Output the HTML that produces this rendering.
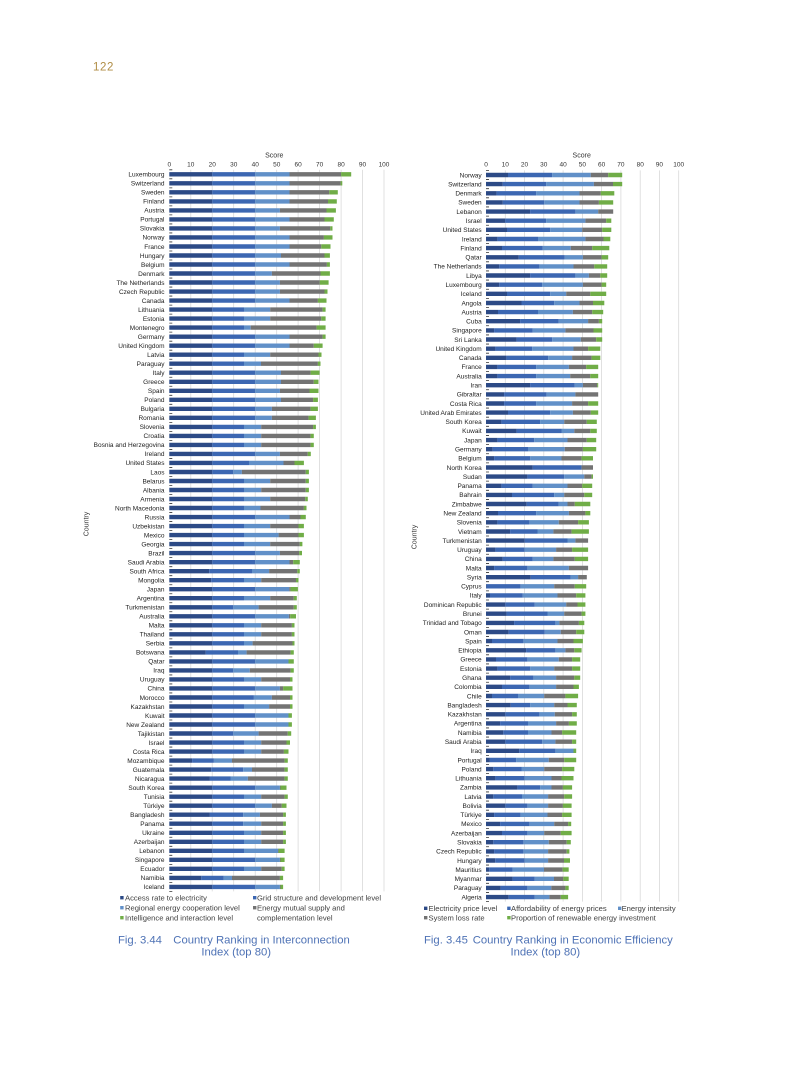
<!DOCTYPE html>
<html><head><meta charset="utf-8"><style>
html,body{margin:0;padding:0;background:#fff;}
svg{display:block;}
text{font-family:"Liberation Sans",Arial,sans-serif;}
</style></head><body>
<svg width="793" height="1077" viewBox="0 0 793 1077" xmlns="http://www.w3.org/2000/svg">
<rect width="793" height="1077" fill="#fff"/>
<text x="93" y="70.5" font-size="11.5" letter-spacing="0.6" fill="#b08d45">122</text>

<!-- LEFT CHART -->
<g stroke="#d9d9d9" stroke-width="0.8">
<line x1="190.8" y1="169.8" x2="190.8" y2="891.4"/><line x1="212.2" y1="169.8" x2="212.2" y2="891.4"/><line x1="233.7" y1="169.8" x2="233.7" y2="891.4"/><line x1="255.2" y1="169.8" x2="255.2" y2="891.4"/><line x1="276.7" y1="169.8" x2="276.7" y2="891.4"/><line x1="298.1" y1="169.8" x2="298.1" y2="891.4"/><line x1="319.6" y1="169.8" x2="319.6" y2="891.4"/><line x1="341.1" y1="169.8" x2="341.1" y2="891.4"/><line x1="362.5" y1="169.8" x2="362.5" y2="891.4"/><line x1="384" y1="169.8" x2="384" y2="891.4"/>
</g>
<line x1="170.8" y1="169.4" x2="170.8" y2="892" stroke="#333" stroke-width="3" stroke-dasharray="0.8 8.22"/>
<text x="274.3" y="157.5" font-size="7" text-anchor="middle" fill="#333">Score</text>
<g font-size="6.5" text-anchor="middle" fill="#333">
<text x="169.3" y="166.3">0</text><text x="190.8" y="166.3">10</text><text x="212.2" y="166.3">20</text><text x="233.7" y="166.3">30</text><text x="255.2" y="166.3">40</text><text x="276.7" y="166.3">50</text><text x="298.1" y="166.3">60</text><text x="319.6" y="166.3">70</text><text x="341.1" y="166.3">80</text><text x="362.5" y="166.3">90</text><text x="384" y="166.3">100</text>
</g>
<text transform="translate(88.5,524) rotate(-90)" font-size="7" text-anchor="middle" fill="#333">Country</text>

<g fill="none" stroke-width="4.4">
<path stroke="#2c4a86" d="M169.3 174.3H212.2M169.3 183.3H212.2M169.3 192.3H212.2M169.3 201.4H212.2M169.3 210.4H212.2M169.3 219.4H212.2M169.3 228.4H212.2M169.3 237.4H212.2M169.3 246.5H212.2M169.3 255.5H212.2M169.3 264.5H212.2M169.3 273.5H212.2M169.3 282.5H212.2M169.3 291.6H212.2M169.3 300.6H212.2M169.3 309.6H212.2M169.3 318.6H212.2M169.3 327.6H212.2M169.3 336.7H212.2M169.3 345.7H212.2M169.3 354.7H212.2M169.3 363.7H212.2M169.3 372.7H212.2M169.3 381.8H212.2M169.3 390.8H212.2M169.3 399.8H212.2M169.3 408.8H212.2M169.3 417.8H212.2M169.3 426.9H212.2M169.3 435.9H212.2M169.3 444.9H212.2M169.3 453.9H212.2M169.3 462.9H212.2M169.3 472H212.2M169.3 481H212.2M169.3 490H212.2M169.3 499H212.2M169.3 508H212.2M169.3 517.1H212.2M169.3 526.1H212.2M169.3 535.1H212.2M169.3 544.1H212.2M169.3 553.1H212.2M169.3 562.2H212.2M169.3 571.2H209.2M169.3 580.2H211.2M169.3 589.2H212.2M169.3 598.2H212.2M169.3 607.3H212.2M169.3 616.3H212.2M169.3 625.3H212.2M169.3 634.3H212.2M169.3 643.3H212.2M169.3 652.4H205.8M169.3 661.4H212.2M169.3 670.4H212.2M169.3 679.4H212.2M169.3 688.4H212.2M169.3 697.5H212.2M169.3 706.5H212.2M169.3 715.5H212.2M169.3 724.5H212.2M169.3 733.5H212.2M169.3 742.6H212.2M169.3 751.6H212.2M169.3 760.6H192.1M169.3 769.6H211.2M169.3 778.6H209.9M169.3 787.7H212.2M169.3 796.7H212.2M169.3 805.7H212.2M169.3 814.7H209.9M169.3 823.7H212.2M169.3 832.8H212.2M169.3 841.8H212.2M169.3 850.8H212.2M169.3 859.8H212.2M169.3 868.8H212.2M169.3 877.9H201.3M169.3 886.9H212.2"/>
<path stroke="#3c67b2" d="M212.2 174.3H255.2M212.2 183.3H255.2M212.2 192.3H255.2M212.2 201.4H255.2M212.2 210.4H255.2M212.2 219.4H255.2M212.2 228.4H255.2M212.2 237.4H255.2M212.2 246.5H255.2M212.2 255.5H255.2M212.2 264.5H255.2M212.2 273.5H255.2M212.2 282.5H255.2M212.2 291.6H255.2M212.2 300.6H255.2M212.2 309.6H244M212.2 318.6H244M212.2 327.6H244M212.2 336.7H255.2M212.2 345.7H255.2M212.2 354.7H244M212.2 363.7H244M212.2 372.7H255.2M212.2 381.8H255.2M212.2 390.8H255.2M212.2 399.8H255.2M212.2 408.8H255.2M212.2 417.8H255.2M212.2 426.9H244M212.2 435.9H244M212.2 444.9H244M212.2 453.9H255.2M212.2 462.9H249M212.2 472H233.3M212.2 481H244M212.2 490H244M212.2 499H244M212.2 508H244M212.2 517.1H255.2M212.2 526.1H244M212.2 535.1H244M212.2 544.1H244M212.2 553.1H255.2M212.2 562.2H255.2M209.2 571.2H252M211.2 580.2H244M212.2 589.2H255.2M212.2 598.2H244M212.2 607.3H233.3M212.2 616.3H255.2M212.2 625.3H244M212.2 634.3H244M212.2 643.3H244M205.8 652.4H238M212.2 661.4H255.2M212.2 670.4H233.3M212.2 679.4H244M212.2 688.4H255.2M212.2 697.5H253.9M212.2 706.5H244M212.2 715.5H255.2M212.2 724.5H255.2M212.2 733.5H233.3M212.2 742.6H244M212.2 751.6H244M192.1 760.6H213.9M211.2 769.6H243.2M209.9 778.6H230.5M212.2 787.7H255.2M212.2 796.7H244M212.2 805.7H255.2M209.9 814.7H243.2M212.2 823.7H243.2M212.2 832.8H244M212.2 841.8H244M212.2 850.8H244M212.2 859.8H255.2M212.2 868.8H244M201.3 877.9H223.8M212.2 886.9H255.2"/>
<path stroke="#6190c8" d="M255.2 174.3H289.5M255.2 183.3H289.5M255.2 192.3H289.5M255.2 201.4H289.5M255.2 210.4H279.9M255.2 219.4H289.5M255.2 228.4H279.9M255.2 237.4H289.5M255.2 246.5H289.5M255.2 255.5H281M255.2 264.5H289.5M255.2 273.5H271.9M255.2 282.5H279.9M255.2 291.6H279.9M255.2 300.6H289.5M244 309.6H270.2M244 318.6H270.2M244 327.6H250.7M255.2 336.7H289.5M255.2 345.7H289.5M244 354.7H270.2M244 363.7H261M255.2 372.7H281M255.2 381.8H281M255.2 390.8H279.9M255.2 399.8H281M255.2 408.8H271.9M255.2 417.8H271.9M244 426.9H261.2M244 435.9H261.2M244 444.9H261.2M255.2 453.9H279.9M249 462.9H283.5M233.3 472H241.9M244 481H270.2M244 490H261.2M244 499H270.2M244 508H260.5M255.2 517.1H289.5M244 526.1H270.2M244 535.1H278.6M244 544.1H270.2M255.2 553.1H279.9M255.2 562.2H289.5M252 571.2H269.1M244 580.2H261.2M255.2 589.2H289.3M244 598.2H270.2M233.3 607.3H258.6M255.2 616.3H288.9M244 625.3H261.2M244 634.3H261.2M244 643.3H252.6M238 652.4H246.6M255.2 661.4H288.5M233.3 670.4H249.8M244 679.4H261.2M255.2 688.4H279.9M253.9 697.5H271.9M244 706.5H269.1M255.2 715.5H288.5M255.2 724.5H288.5M233.3 733.5H258.6M244 742.6H261.2M244 751.6H261.2M213.9 760.6H232M243.2 769.6H252M230.5 778.6H247.9M255.2 787.7H279.9M244 796.7H261.2M255.2 805.7H271.9M243.2 814.7H259.9M243.2 823.7H261.2M244 832.8H261.2M244 841.8H261.2M244 850.8H278M255.2 859.8H279.9M244 868.8H261.2M223.8 877.9H232M255.2 886.9H279.9"/>
<path stroke="#737373" d="M289.5 174.3H341.1M289.5 183.3H340.6M289.5 192.3H329.3M289.5 201.4H328M279.9 210.4H326.5M289.5 219.4H324.5M279.9 228.4H330.3M289.5 237.4H323.9M289.5 246.5H321.3M281 255.5H324.5M289.5 264.5H326.9M271.9 273.5H320.5M279.9 282.5H319.8M279.9 291.6H324.5M289.5 300.6H317.9M270.2 309.6H322.6M270.2 318.6H321.3M250.7 327.6H316.6M289.5 336.7H322.6M289.5 345.7H313.8M270.2 354.7H318.5M261 363.7H317.9M281 372.7H310.6M281 381.8H313.8M279.9 390.8H309.5M281 399.8H313.1M271.9 408.8H310.6M271.9 417.8H308.6M261.2 426.9H313.1M261.2 435.9H310.6M261.2 444.9H310.6M279.9 453.9H307.8M283.5 462.9H294.5M241.9 472H305.8M270.2 481H305.8M261.2 490H305.8M270.2 499H305.2M260.5 508H303.9M289.5 517.1H300.5M270.2 526.1H298.5M278.6 535.1H298.5M270.2 544.1H299.8M279.9 553.1H299.2M289.5 562.2H293.2M269.1 571.2H297.3M261.2 580.2H296M289.3 589.2H290.6M270.2 598.2H293.8M258.6 607.3H293.8M288.9 616.3H290.2M261.2 625.3H291.9M261.2 634.3H291.9M252.6 643.3H292.5M246.6 652.4H290.6M249.8 670.4H290.6M261.2 679.4H290M279.9 688.4H283.1M271.9 697.5H290M269.1 706.5H290M258.6 733.5H287.8M261.2 742.6H286.5M261.2 751.6H283.9M232 760.6H284.6M252 769.6H284.6M247.9 778.6H284.6M279.9 787.7H280.5M261.2 796.7H284.6M271.9 805.7H281.8M259.9 814.7H283.1M261.2 823.7H283.1M261.2 832.8H283.1M261.2 841.8H283.1M278 850.8H278.6M279.9 859.8H280.5M261.2 868.8H281.8M232 877.9H279.9M279.9 886.9H280.5"/>
<path stroke="#70ad47" d="M341.1 174.3H351.2M340.6 183.3H342.3M329.3 192.3H337.8M328 201.4H336.8M326.5 210.4H335.9M324.5 219.4H333.8M330.3 228.4H332.5M323.9 237.4H332.5M321.3 246.5H330.5M324.5 255.5H329.9M326.9 264.5H329.9M320.5 273.5H329.9M319.8 282.5H328.6M324.5 291.6H327.5M317.9 300.6H326.5M322.6 309.6H325.6M321.3 318.6H325.6M316.6 327.6H325.6M322.6 336.7H325.6M313.8 345.7H322.6M318.5 354.7H321.5M317.9 363.7H320.5M310.6 372.7H319.6M313.8 381.8H318.5M309.5 390.8H318.5M313.1 399.8H317.9M310.6 408.8H317.9M308.6 417.8H315.9M313.1 426.9H315.9M310.6 435.9H313.8M310.6 444.9H313.8M307.8 453.9H310.8M294.5 462.9H303.9M305.8 472H308.9M305.8 481H308.9M305.8 490H308.9M305.2 499H307.8M303.9 508H306.5M300.5 517.1H305.8M298.5 526.1H303.9M298.5 535.1H303.9M299.8 544.1H302.4M299.2 553.1H302M293.2 562.2H299.8M297.3 571.2H299.8M296 580.2H298.5M290.6 589.2H297.9M293.8 598.2H296.8M293.8 607.3H296.8M290.2 616.3H296M291.9 625.3H294.5M291.9 634.3H294.5M292.5 643.3H294.5M290.6 652.4H293.8M288.5 661.4H293.8M290.6 670.4H293.8M290 679.4H292.5M283.1 688.4H292.5M290 697.5H292.5M290 706.5H292.5M288.5 715.5H291.9M288.5 724.5H291.9M287.8 733.5H291.2M286.5 742.6H290M283.9 751.6H288.5M284.6 760.6H287.8M284.6 769.6H287.8M284.6 778.6H287.8M280.5 787.7H286.5M284.6 796.7H287.8M281.8 805.7H286.5M283.1 814.7H285.9M283.1 823.7H285.9M283.1 832.8H285.9M283.1 841.8H285.9M278.6 850.8H284.6M280.5 859.8H284.6M281.8 868.8H284.6M279.9 877.9H283.1M280.5 886.9H283.1"/>
</g>

<text font-size="6.5" text-anchor="end" fill="#222" x="164.5" y="176.6"><tspan x="164.5">Luxembourg</tspan><tspan x="164.5" dy="9.02">Switzerland</tspan><tspan x="164.5" dy="9.02">Sweden</tspan><tspan x="164.5" dy="9.02">Finland</tspan><tspan x="164.5" dy="9.02">Austria</tspan><tspan x="164.5" dy="9.02">Portugal</tspan><tspan x="164.5" dy="9.02">Slovakia</tspan><tspan x="164.5" dy="9.02">Norway</tspan><tspan x="164.5" dy="9.02">France</tspan><tspan x="164.5" dy="9.02">Hungary</tspan><tspan x="164.5" dy="9.02">Belgium</tspan><tspan x="164.5" dy="9.02">Denmark</tspan><tspan x="164.5" dy="9.02">The Netherlands</tspan><tspan x="164.5" dy="9.02">Czech Republic</tspan><tspan x="164.5" dy="9.02">Canada</tspan><tspan x="164.5" dy="9.02">Lithuania</tspan><tspan x="164.5" dy="9.02">Estonia</tspan><tspan x="164.5" dy="9.02">Montenegro</tspan><tspan x="164.5" dy="9.02">Germany</tspan><tspan x="164.5" dy="9.02">United Kingdom</tspan><tspan x="164.5" dy="9.02">Latvia</tspan><tspan x="164.5" dy="9.02">Paraguay</tspan><tspan x="164.5" dy="9.02">Italy</tspan><tspan x="164.5" dy="9.02">Greece</tspan><tspan x="164.5" dy="9.02">Spain</tspan><tspan x="164.5" dy="9.02">Poland</tspan><tspan x="164.5" dy="9.02">Bulgaria</tspan><tspan x="164.5" dy="9.02">Romania</tspan><tspan x="164.5" dy="9.02">Slovenia</tspan><tspan x="164.5" dy="9.02">Croatia</tspan><tspan x="164.5" dy="9.02">Bosnia and Herzegovina</tspan><tspan x="164.5" dy="9.02">Ireland</tspan><tspan x="164.5" dy="9.02">United States</tspan><tspan x="164.5" dy="9.02">Laos</tspan><tspan x="164.5" dy="9.02">Belarus</tspan><tspan x="164.5" dy="9.02">Albania</tspan><tspan x="164.5" dy="9.02">Armenia</tspan><tspan x="164.5" dy="9.02">North Macedonia</tspan><tspan x="164.5" dy="9.02">Russia</tspan><tspan x="164.5" dy="9.02">Uzbekistan</tspan><tspan x="164.5" dy="9.02">Mexico</tspan><tspan x="164.5" dy="9.02">Georgia</tspan><tspan x="164.5" dy="9.02">Brazil</tspan><tspan x="164.5" dy="9.02">Saudi Arabia</tspan><tspan x="164.5" dy="9.02">South Africa</tspan><tspan x="164.5" dy="9.02">Mongolia</tspan><tspan x="164.5" dy="9.02">Japan</tspan><tspan x="164.5" dy="9.02">Argentina</tspan><tspan x="164.5" dy="9.02">Turkmenistan</tspan><tspan x="164.5" dy="9.02">Australia</tspan><tspan x="164.5" dy="9.02">Malta</tspan><tspan x="164.5" dy="9.02">Thailand</tspan><tspan x="164.5" dy="9.02">Serbia</tspan><tspan x="164.5" dy="9.02">Botswana</tspan><tspan x="164.5" dy="9.02">Qatar</tspan><tspan x="164.5" dy="9.02">Iraq</tspan><tspan x="164.5" dy="9.02">Uruguay</tspan><tspan x="164.5" dy="9.02">China</tspan><tspan x="164.5" dy="9.02">Morocco</tspan><tspan x="164.5" dy="9.02">Kazakhstan</tspan><tspan x="164.5" dy="9.02">Kuwait</tspan><tspan x="164.5" dy="9.02">New Zealand</tspan><tspan x="164.5" dy="9.02">Tajikistan</tspan><tspan x="164.5" dy="9.02">Israel</tspan><tspan x="164.5" dy="9.02">Costa Rica</tspan><tspan x="164.5" dy="9.02">Mozambique</tspan><tspan x="164.5" dy="9.02">Guatemala</tspan><tspan x="164.5" dy="9.02">Nicaragua</tspan><tspan x="164.5" dy="9.02">South Korea</tspan><tspan x="164.5" dy="9.02">Tunisia</tspan><tspan x="164.5" dy="9.02">Türkiye</tspan><tspan x="164.5" dy="9.02">Bangladesh</tspan><tspan x="164.5" dy="9.02">Panama</tspan><tspan x="164.5" dy="9.02">Ukraine</tspan><tspan x="164.5" dy="9.02">Azerbaijan</tspan><tspan x="164.5" dy="9.02">Lebanon</tspan><tspan x="164.5" dy="9.02">Singapore</tspan><tspan x="164.5" dy="9.02">Ecuador</tspan><tspan x="164.5" dy="9.02">Namibia</tspan><tspan x="164.5" dy="9.02">Iceland</tspan></text>

<!-- left legend -->
<g font-size="7.6" fill="#404040">
<rect x="120.2" y="896" width="3.4" height="3.4" fill="#2c4a86"/><text x="125" y="900.3">Access rate to electricity</text>
<rect x="253" y="896" width="3.4" height="3.4" fill="#3c67b2"/><text x="257" y="900.3">Grid structure and development level</text>
<rect x="120.2" y="906" width="3.4" height="3.4" fill="#6190c8"/><text x="125" y="910.3">Regional energy cooperation level</text>
<rect x="253" y="906" width="3.4" height="3.4" fill="#737373"/><text x="257" y="910.3">Energy mutual supply and</text>
<rect x="120.2" y="916" width="3.4" height="3.4" fill="#70ad47"/><text x="125" y="920.3">Intelligence and interaction level</text>
<text x="257" y="920.3">complementation level</text>
</g>
<g font-size="11.3" fill="#4e72b5">
<text x="118" y="943.5">Fig. 3.44</text><text x="173.3" y="943.5">Country Ranking in Interconnection</text>
<text x="236.2" y="955.7" text-anchor="middle">Index (top 80)</text>
</g>

<!-- RIGHT CHART -->
<g stroke="#d9d9d9" stroke-width="0.8">
<line x1="505.3" y1="170.4" x2="505.3" y2="901.6"/><line x1="524.5" y1="170.4" x2="524.5" y2="901.6"/><line x1="543.8" y1="170.4" x2="543.8" y2="901.6"/><line x1="563.1" y1="170.4" x2="563.1" y2="901.6"/><line x1="582.4" y1="170.4" x2="582.4" y2="901.6"/><line x1="601.6" y1="170.4" x2="601.6" y2="901.6"/><line x1="620.9" y1="170.4" x2="620.9" y2="901.6"/><line x1="640.2" y1="170.4" x2="640.2" y2="901.6"/><line x1="659.4" y1="170.4" x2="659.4" y2="901.6"/><line x1="678.7" y1="170.4" x2="678.7" y2="901.6"/>
</g>
<line x1="487.5" y1="170" x2="487.5" y2="902.2" stroke="#333" stroke-width="3" stroke-dasharray="0.8 8.34"/>
<text x="581.7" y="157.5" font-size="7" text-anchor="middle" fill="#333">Score</text>
<g font-size="6.5" text-anchor="middle" fill="#333">
<text x="486" y="166.3">0</text><text x="505.3" y="166.3">10</text><text x="524.5" y="166.3">20</text><text x="543.8" y="166.3">30</text><text x="563.1" y="166.3">40</text><text x="582.4" y="166.3">50</text><text x="601.6" y="166.3">60</text><text x="620.9" y="166.3">70</text><text x="640.2" y="166.3">80</text><text x="659.4" y="166.3">90</text><text x="678.7" y="166.3">100</text>
</g>
<text transform="translate(416.5,537) rotate(-90)" font-size="7" text-anchor="middle" fill="#333">Country</text>

<g fill="none" stroke-width="4.4">
<path stroke="#2c4a86" d="M486 175H508M486 184.1H502.8M486 193.3H496.6M486 202.4H502.8M486 211.6H530.1M486 220.7H505.1M486 229.8H507M486 239H497.4M486 248.1H502M486 257.3H518.8M486 266.4H499.3M486 275.5H530.1M486 284.7H499.3M486 293.8H507M486 303H521.5M486 312.1H498M486 321.2H520.1M486 330.4H494.1M486 339.5H516.6M486 348.7H495.4M486 357.8H506.4M486 366.9H497.4M486 376.1H497.4M486 385.2H530.1M486 394.4H504.1M486 403.5H504.1M486 412.6H508M486 421.8H501.4M486 430.9H516.6M486 440.1H497.4M486 449.2H492.7M486 458.3H494.1M486 467.5H532.8M486 476.6H527.4M486 485.8H501.4M486 494.9H512M486 504H526.7M486 513.2H498M486 522.3H497.4M486 531.5H510.1M486 540.6H524.7M486 549.7H495.4M486 558.9H502.8M486 568H494.1M486 577.2H530.7M486 586.3H486.6M486 595.4H490M486 604.6H505.3M486 613.7H506.6M486 622.9H514.1M486 632H508.7M486 641.1H492M486 650.3H526.1M486 659.4H496M486 668.6H497.4M486 677.7H510.1M486 686.8H502M486 696H492M486 705.1H510.7M486 714.3H505.3M486 723.4H500.1M486 732.5H503.3M486 741.7H505.3M486 750.8H519.3M486 760H489.9M486 769.1H493.3M486 778.2H495.4M486 787.4H517.4M486 796.5H493.3M486 805.7H505.3M486 814.8H494.1M486 823.9H500.1M486 833.1H502M486 842.2H493.3M486 851.4H494.1M486 860.5H495.2M486 869.6H489.3M486 878.8H512.6M486 887.9H500.6M486 897.1H508.7"/>
<path stroke="#3c67b2" d="M508 175H552.1M502.8 184.1H546.1M496.6 193.3H536.1M502.8 202.4H544.2M530.1 211.6H575.4M505.1 220.7H546.1M507 229.8H550.2M497.4 239H538M502 248.1H542.8M518.8 257.3H564.8M499.3 266.4H539.4M530.1 275.5H575.4M499.3 284.7H542.1M507 293.8H550.2M521.5 303H554.2M498 312.1H538M520.1 321.2H558.8M494.1 330.4H532.8M516.6 339.5H552.1M495.4 348.7H532.1M506.4 357.8H548.1M497.4 366.9H536.1M497.4 376.1H536.1M530.1 385.2H574.8M504.1 394.4H546.7M504.1 403.5H536.1M508 412.6H550.2M501.4 421.8H540.1M516.6 430.9H561.5M497.4 440.1H534.2M492.7 449.2H528M494.1 458.3H530.1M532.8 467.5H581.6M527.4 476.6H564.2M501.4 485.8H532.8M512 494.9H554.2M526.7 504H558.8M498 513.2H536.1M497.4 522.3H529.4M510.1 531.5H537.5M524.7 540.6H567.5M495.4 549.7H524.7M502.8 558.9H532.8M494.1 568H527.4M530.7 577.2H570.8M486.6 586.3H520.7M490 595.4H522.8M505.3 604.6H534.8M506.6 613.7H547.5M514.1 622.9H555.4M508.7 632H544.8M492 641.1H523.4M526.1 650.3H555.4M496 659.4H527.4M497.4 668.6H530.1M510.1 677.7H533.4M502 686.8H529.4M492 696H518M510.7 705.1H530.1M505.3 714.3H539.4M500.1 723.4H528M503.3 732.5H528M505.3 741.7H542.1M519.3 750.8H555.4M489.9 760H516.1M493.3 769.1H521.5M495.4 778.2H524.7M517.4 787.4H540.1M493.3 796.5H522M505.3 805.7H527.4M494.1 814.8H520.7M500.1 823.9H529.4M502 833.1H527.4M493.3 842.2H523.4M494.1 851.4H523.4M495.2 860.5H524.7M489.3 869.6H512.6M512.6 878.8H534.8M500.6 887.9H527.4M508.7 897.1H534.8"/>
<path stroke="#6190c8" d="M552.1 175H590.8M546.1 184.1H593.9M536.1 193.3H579.5M544.2 202.4H579.5M575.4 211.6H598.2M546.1 220.7H585.4M550.2 229.8H582.2M538 239H585.4M542.8 248.1H570.8M564.8 257.3H582.9M539.4 266.4H573.5M575.4 275.5H588.9M542.1 284.7H582.9M550.2 293.8H566.2M554.2 303H579.5M538 312.1H572.9M558.8 321.2H588.1M532.8 330.4H565.4M552.1 339.5H580.8M532.1 348.7H573.5M548.1 357.8H572.1M536.1 366.9H568.9M536.1 376.1H570.2M574.8 385.2H582.9M546.7 394.4H575.4M536.1 403.5H572.1M550.2 412.6H572.9M540.1 421.8H564.2M561.5 430.9H574.3M534.2 440.1H567.5M528 449.2H564.8M530.1 458.3H561.5M564.2 476.6H584.3M532.8 485.8H567.5M554.2 494.9H564.2M558.8 504H567.5M536.1 513.2H568.9M529.4 522.3H558.8M537.5 531.5H553.4M567.5 540.6H575.4M524.7 549.7H556.1M532.8 558.9H553.4M527.4 568H568.9M570.8 577.2H578.1M520.7 586.3H554.2M522.8 595.4H557.5M534.8 604.6H566.2M547.5 613.7H564.2M555.4 622.9H559.4M544.8 632H560.8M523.4 641.1H557.5M555.4 650.3H565.4M527.4 659.4H558.8M530.1 668.6H554.2M533.4 677.7H556.1M529.4 686.8H556.1M518 696H544.2M530.1 705.1H554.2M539.4 714.3H554.8M528 723.4H556.1M528 732.5H551.5M542.1 741.7H555.4M555.4 750.8H573.5M516.1 760H548.8M521.5 769.1H544.2M524.7 778.2H551.5M540.1 787.4H551.5M522 796.5H548.1M527.4 805.7H548.1M520.7 814.8H547.5M529.4 823.9H554.2M527.4 833.1H544.2M523.4 842.2H548.8M523.4 851.4H548.1M524.7 860.5H548.1M512.6 869.6H544M534.8 878.8H554M527.4 887.9H551.3M534.8 897.1H549.4"/>
<path stroke="#737373" d="M590.8 175H608.2M593.9 184.1H613M579.5 193.3H600.8M579.5 202.4H598.9M598.2 211.6H613.2M585.4 220.7H606.2M582.2 229.8H602.2M585.4 239H603.5M570.8 248.1H592.2M582.9 257.3H601.6M573.5 266.4H594.3M588.9 275.5H600.3M582.9 284.7H601.6M566.2 293.8H590.3M579.5 303H593M572.9 312.1H592.2M588.1 321.2H598.9M565.4 330.4H593.5M580.8 339.5H596.2M573.5 348.7H588.1M572.1 357.8H591.6M568.9 366.9H586.2M570.2 376.1H590.3M582.9 385.2H597.2M575.4 394.4H598.2M572.1 403.5H588.1M572.9 412.6H590.8M564.2 421.8H586.8M574.3 430.9H590.3M567.5 440.1H586.8M564.8 449.2H582.9M561.5 458.3H581.6M581.6 467.5H593M584.3 476.6H591.6M567.5 485.8H582.2M564.2 494.9H584.3M567.5 504H574.8M568.9 513.2H585.4M558.8 522.3H578.1M553.4 531.5H571.6M575.4 540.6H588.1M556.1 549.7H572.1M553.4 558.9H574.8M568.9 568H588.1M578.1 577.2H586.8M554.2 586.3H574.8M557.5 595.4H576.2M566.2 604.6H577.5M564.2 613.7H581.6M559.4 622.9H578.9M560.8 632H576.2M557.5 641.1H573.5M565.4 650.3H574.3M558.8 659.4H572.1M554.2 668.6H572.1M556.1 677.7H574.3M556.1 686.8H573.5M544.2 696H565.4M554.2 705.1H567.5M554.8 714.3H572.1M556.1 723.4H568.9M551.5 732.5H562.1M555.4 741.7H572.1M548.8 760H564.2M544.2 769.1H562.1M551.5 778.2H561.5M551.5 787.4H562.9M548.1 796.5H564.2M548.1 805.7H562.9M547.5 814.8H562.1M554.2 823.9H568.1M544.2 833.1H560.8M548.8 842.2H566.7M548.1 851.4H566.7M548.1 860.5H564M544 869.6H562.7M554 878.8H563.3M551.3 887.9H565.4M549.4 897.1H560.8"/>
<path stroke="#70ad47" d="M608.2 175H622.2M613 184.1H622.2M600.8 193.3H614.3M598.9 202.4H613.2M606.2 220.7H611.3M602.2 229.8H611.3M603.5 239H610.3M592.2 248.1H609.3M601.6 257.3H608.2M594.3 266.4H607.2M600.3 275.5H607.2M601.6 284.7H606.2M590.3 293.8H606.2M593 303H604.3M592.2 312.1H603.2M598.9 321.2H602.2M593.5 330.4H602.2M596.2 339.5H602.2M588.1 348.7H600.3M591.6 357.8H600.3M586.2 366.9H598.2M590.3 376.1H598.2M597.2 385.2H598.2M588.1 403.5H598.2M590.8 412.6H598.2M586.8 421.8H596.8M590.3 430.9H596.8M586.8 440.1H596.2M582.9 449.2H596.2M581.6 458.3H593M591.6 476.6H593M582.2 485.8H592.2M584.3 494.9H592.2M574.8 504H590.3M585.4 513.2H590.3M578.1 522.3H588.9M571.6 531.5H588.9M572.1 549.7H588.1M574.8 558.9H588.1M574.8 586.3H586.2M576.2 595.4H585.4M577.5 604.6H585.4M581.6 613.7H585.4M578.9 622.9H584.3M576.2 632H584.3M573.5 641.1H582.9M574.3 650.3H581.6M572.1 659.4H580.2M572.1 668.6H580.2M574.3 677.7H580.2M573.5 686.8H578.9M565.4 696H578.1M567.5 705.1H576.8M572.1 714.3H576.8M568.9 723.4H576.8M562.1 732.5H576.2M572.1 741.7H576.2M573.5 750.8H576.2M564.2 760H576.2M562.1 769.1H574.3M561.5 778.2H573.5M562.9 787.4H572.1M564.2 796.5H572.1M562.9 805.7H571.6M562.1 814.8H571.6M568.1 823.9H571.2M560.8 833.1H571.6M566.7 842.2H570.8M566.7 851.4H569.4M564 860.5H570M562.7 869.6H568.7M563.3 878.8H568.7M565.4 887.9H568.7M560.8 897.1H568.1"/>
</g>

<text font-size="6.5" text-anchor="end" fill="#222" x="481.7" y="177.3"><tspan x="481.7">Norway</tspan><tspan x="481.7" dy="9.14">Switzerland</tspan><tspan x="481.7" dy="9.14">Denmark</tspan><tspan x="481.7" dy="9.14">Sweden</tspan><tspan x="481.7" dy="9.14">Lebanon</tspan><tspan x="481.7" dy="9.14">Israel</tspan><tspan x="481.7" dy="9.14">United States</tspan><tspan x="481.7" dy="9.14">Ireland</tspan><tspan x="481.7" dy="9.14">Finland</tspan><tspan x="481.7" dy="9.14">Qatar</tspan><tspan x="481.7" dy="9.14">The Netherlands</tspan><tspan x="481.7" dy="9.14">Libya</tspan><tspan x="481.7" dy="9.14">Luxembourg</tspan><tspan x="481.7" dy="9.14">Iceland</tspan><tspan x="481.7" dy="9.14">Angola</tspan><tspan x="481.7" dy="9.14">Austria</tspan><tspan x="481.7" dy="9.14">Cuba</tspan><tspan x="481.7" dy="9.14">Singapore</tspan><tspan x="481.7" dy="9.14">Sri Lanka</tspan><tspan x="481.7" dy="9.14">United Kingdom</tspan><tspan x="481.7" dy="9.14">Canada</tspan><tspan x="481.7" dy="9.14">France</tspan><tspan x="481.7" dy="9.14">Australia</tspan><tspan x="481.7" dy="9.14">Iran</tspan><tspan x="481.7" dy="9.14">Gibraltar</tspan><tspan x="481.7" dy="9.14">Costa Rica</tspan><tspan x="481.7" dy="9.14">United Arab Emirates</tspan><tspan x="481.7" dy="9.14">South Korea</tspan><tspan x="481.7" dy="9.14">Kuwait</tspan><tspan x="481.7" dy="9.14">Japan</tspan><tspan x="481.7" dy="9.14">Germany</tspan><tspan x="481.7" dy="9.14">Belgium</tspan><tspan x="481.7" dy="9.14">North Korea</tspan><tspan x="481.7" dy="9.14">Sudan</tspan><tspan x="481.7" dy="9.14">Panama</tspan><tspan x="481.7" dy="9.14">Bahrain</tspan><tspan x="481.7" dy="9.14">Zimbabwe</tspan><tspan x="481.7" dy="9.14">New Zealand</tspan><tspan x="481.7" dy="9.14">Slovenia</tspan><tspan x="481.7" dy="9.14">Vietnam</tspan><tspan x="481.7" dy="9.14">Turkmenistan</tspan><tspan x="481.7" dy="9.14">Uruguay</tspan><tspan x="481.7" dy="9.14">China</tspan><tspan x="481.7" dy="9.14">Malta</tspan><tspan x="481.7" dy="9.14">Syria</tspan><tspan x="481.7" dy="9.14">Cyprus</tspan><tspan x="481.7" dy="9.14">Italy</tspan><tspan x="481.7" dy="9.14">Dominican Republic</tspan><tspan x="481.7" dy="9.14">Brunei</tspan><tspan x="481.7" dy="9.14">Trinidad and Tobago</tspan><tspan x="481.7" dy="9.14">Oman</tspan><tspan x="481.7" dy="9.14">Spain</tspan><tspan x="481.7" dy="9.14">Ethiopia</tspan><tspan x="481.7" dy="9.14">Greece</tspan><tspan x="481.7" dy="9.14">Estonia</tspan><tspan x="481.7" dy="9.14">Ghana</tspan><tspan x="481.7" dy="9.14">Colombia</tspan><tspan x="481.7" dy="9.14">Chile</tspan><tspan x="481.7" dy="9.14">Bangladesh</tspan><tspan x="481.7" dy="9.14">Kazakhstan</tspan><tspan x="481.7" dy="9.14">Argentina</tspan><tspan x="481.7" dy="9.14">Namibia</tspan><tspan x="481.7" dy="9.14">Saudi Arabia</tspan><tspan x="481.7" dy="9.14">Iraq</tspan><tspan x="481.7" dy="9.14">Portugal</tspan><tspan x="481.7" dy="9.14">Poland</tspan><tspan x="481.7" dy="9.14">Lithuania</tspan><tspan x="481.7" dy="9.14">Zambia</tspan><tspan x="481.7" dy="9.14">Latvia</tspan><tspan x="481.7" dy="9.14">Bolivia</tspan><tspan x="481.7" dy="9.14">Türkiye</tspan><tspan x="481.7" dy="9.14">Mexico</tspan><tspan x="481.7" dy="9.14">Azerbaijan</tspan><tspan x="481.7" dy="9.14">Slovakia</tspan><tspan x="481.7" dy="9.14">Czech Republic</tspan><tspan x="481.7" dy="9.14">Hungary</tspan><tspan x="481.7" dy="9.14">Mauritius</tspan><tspan x="481.7" dy="9.14">Myanmar</tspan><tspan x="481.7" dy="9.14">Paraguay</tspan><tspan x="481.7" dy="9.14">Algeria</tspan></text>

<!-- right legend -->
<g font-size="7.6" fill="#404040">
<rect x="424" y="906.6" width="3.4" height="3.4" fill="#2c4a86"/><text x="428.5" y="910.9">Electricity price level</text>
<rect x="507.2" y="906.6" width="3.4" height="3.4" fill="#3c67b2"/><text x="511" y="910.9">Affordability of energy prices</text>
<rect x="618" y="906.6" width="3.4" height="3.4" fill="#6190c8"/><text x="621.6" y="910.9">Energy intensity</text>
<rect x="424" y="916" width="3.4" height="3.4" fill="#737373"/><text x="428.5" y="920.3">System loss rate</text>
<rect x="507.2" y="916" width="3.4" height="3.4" fill="#70ad47"/><text x="511" y="920.3">Proportion of renewable energy investment</text>
</g>
<g font-size="11.3" fill="#4e72b5">
<text x="424" y="943.5">Fig. 3.45</text><text x="472.7" y="943.5">Country Ranking in Economic Efficiency</text>
<text x="545.3" y="955.7" text-anchor="middle">Index (top 80)</text>
</g>
</svg>
</body></html>
